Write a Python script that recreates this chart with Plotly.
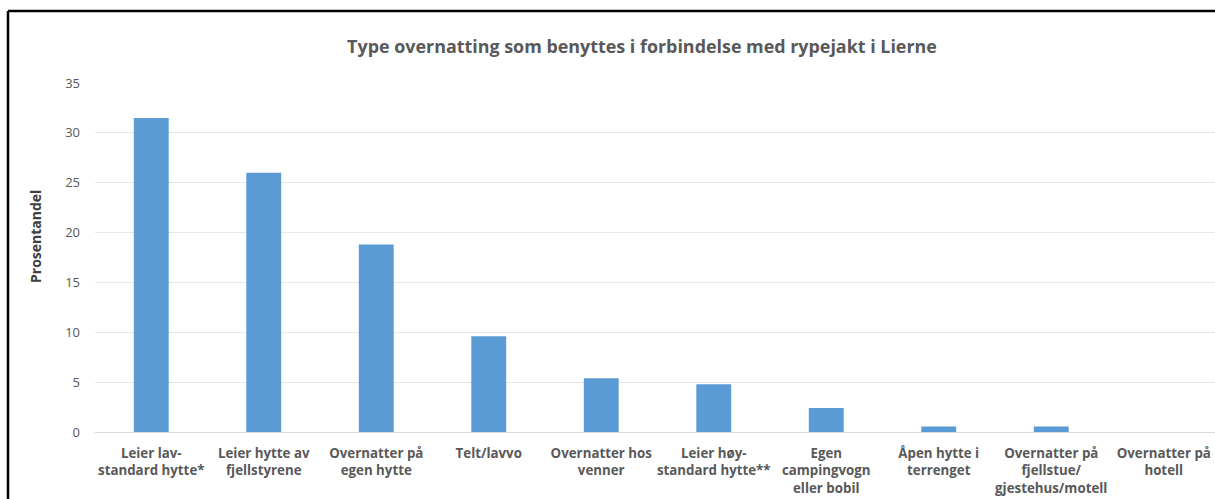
import plotly.graph_objects as go

categories = [
    "Leier lav-<br>standard hytte*",
    "Leier hytte av<br>fjellstyrene",
    "Overnatter på<br>egen hytte",
    "Telt/lavvo",
    "Overnatter hos<br>venner",
    "Leier høy-<br>standard hytte**",
    "Egen<br>campingvogn<br>eller bobil",
    "Åpen hytte i<br>terrenget",
    "Overnatter på<br>fjellstue/<br>gjestehus/motell",
    "Overnatter på<br>hotell",
]
values = [31.5, 26.0, 18.8, 9.6, 5.4, 4.8, 2.4, 0.55, 0.55, 0.0]
y_ticks = [0, 5, 10, 15, 20, 25, 30, 35]

W, H = 1215, 499
ml, mr, mt, mb = 95, 0, 83, 67
pw = W - ml - mr
ph = H - mt - mb

def px_x(p):
    return (p - ml) / pw

def px_y(p):
    return (H - mb - p) / ph

fig = go.Figure()
fig.add_trace(go.Bar(
    x=list(range(len(categories))),
    y=values,
    marker=dict(color="#5b9bd5", line=dict(width=0)),
    width=0.31,
    hoverinfo="skip",
))

fig.update_layout(
    width=W, height=H,
    margin=dict(l=ml, r=mr, t=mt, b=mb),
    paper_bgcolor="white", plot_bgcolor="white",
    showlegend=False,
    title=dict(
        text="<b>Type overnatting som benyttes i forbindelse med rypejakt i Lierne</b>",
        font=dict(family="Open Sans", size=17.9, color="#595959"),
        x=642 / W, xanchor="center", xref="container",
        y=1 - 47 / H, yanchor="middle", yref="container",
    ),
    xaxis=dict(
        range=[-0.5, -0.5 + pw / 112.5],
        tickmode="array",
        tickvals=list(range(len(categories))),
        ticktext=["<b>%s</b>" % c for c in categories],
        tickfont=dict(family="Open Sans", size=13.3, color="#595959"),
        showgrid=False, zeroline=False,
        showline=True, linecolor="#d9d9d9", linewidth=1,
        ticks="", ticklen=0,
        ticklabelstandoff=9,
        tickangle=0,
        fixedrange=True,
    ),
    yaxis=dict(
        range=[0, 35],
        tickmode="array", tickvals=y_ticks,
        tickfont=dict(family="Open Sans", size=13, color="#595959"),
        showgrid=True, gridcolor="#e6e6e6", gridwidth=1,
        zeroline=False, ticks="", showline=False,
        ticklabelstandoff=14,
        fixedrange=True,
    ),
    annotations=[
        dict(text="<b>Prosentandel</b>", textangle=-90,
             xref="paper", yref="paper", x=px_x(35), y=px_y(237),
             xanchor="center", yanchor="middle", showarrow=False,
             font=dict(family="Open Sans", size=14, color="#404040")),
    ],
    shapes=[
        dict(type="line", xref="paper", yref="paper",
             x0=px_x(8), x1=1, y0=px_y(11), y1=px_y(11),
             line=dict(color="black", width=2.5)),
        dict(type="line", xref="paper", yref="paper",
             x0=px_x(8), x1=px_x(8), y0=px_y(11), y1=px_y(H),
             line=dict(color="black", width=2.5)),
    ],
)

fig.write_html(
    "out.html",
    config={"displayModeBar": False},
    post_script="document.body.style.margin='0';document.body.style.overflow='hidden';",
)
